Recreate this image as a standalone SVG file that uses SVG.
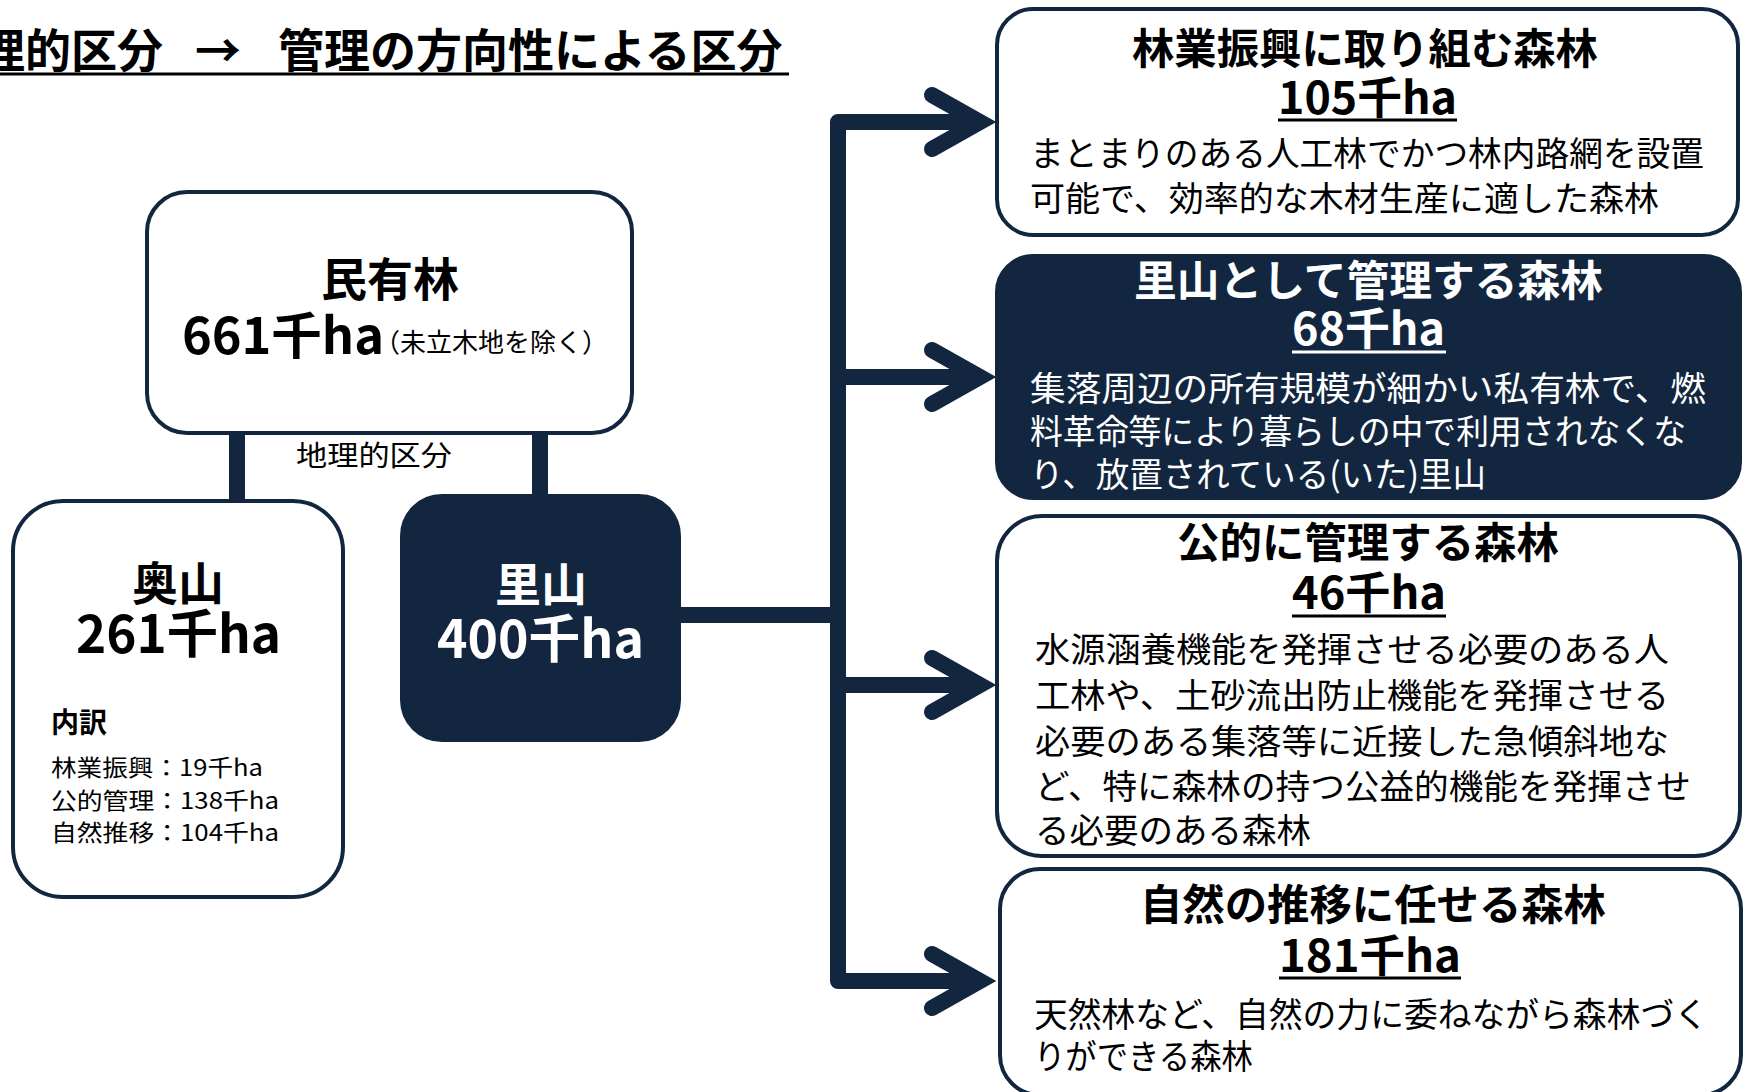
<svg xmlns="http://www.w3.org/2000/svg" width="1747" height="1092" viewBox="0 0 1747 1092">
<defs>
<style>
.t{font-family:"Noto Sans CJK JP","Noto Sans",sans-serif;fill:#000}
.b{font-weight:700}
.w{fill:#fff}
.box{fill:#fff;stroke:#13263f;stroke-width:4}
.dark{fill:#13263f;stroke:#13263f;stroke-width:4}
.conn{stroke:#13263f;stroke-width:16;fill:none;stroke-linejoin:round}
.chev{stroke:#13263f;stroke-width:16;fill:none;stroke-linecap:round;stroke-linejoin:miter}
.ul{stroke:#000;stroke-width:3}
.ulw{stroke:#fff;stroke-width:3}
</style>
</defs>
<rect width="1747" height="1092" fill="#fff"/>

<g id="title">
<text class="t b" y="67" font-size="46"><tspan x="-21">理的区分</tspan><tspan x="195">→</tspan><tspan x="278">管理の方向性による区分</tspan></text>
<line class="ul" x1="0" y1="74" x2="789" y2="74"/>
</g>

<g id="connectors">
<line class="conn" x1="237" y1="433" x2="237" y2="503" stroke-width="15"/>
<line class="conn" x1="540" y1="433" x2="540" y2="498" stroke-width="15"/>
<line class="conn" x1="679" y1="615" x2="838" y2="615"/>
<path class="conn" d="M980 122 H838 V981 H980"/>
<line class="conn" x1="838" y1="377" x2="980" y2="377"/>
<line class="conn" x1="838" y1="685" x2="980" y2="685"/>
<path class="chev" d="M932 95 L980 122 L932 149"/>
<path class="chev" d="M932 350 L980 377 L932 404"/>
<path class="chev" d="M932 658 L980 685 L932 712"/>
<path class="chev" d="M932 954 L980 981 L932 1008"/>
<text class="t" x="296" y="466" font-size="28" textLength="156" lengthAdjust="spacingAndGlyphs">地理的区分</text>
</g>

<g id="node-minyurin">
<rect class="box" x="147" y="192" width="485" height="241" rx="40"/>
<text class="t b" x="390" y="296" font-size="46" text-anchor="middle">民有林</text>
<text class="t b" x="182" y="354" font-size="50" textLength="202" lengthAdjust="spacingAndGlyphs">661千ha</text>
<text class="t" x="374" y="352" font-size="26" textLength="234" lengthAdjust="spacingAndGlyphs">（未立木地を除く）</text>
</g>

<g id="node-okuyama">
<rect class="box" x="13" y="501" width="330" height="396" rx="50"/>
<text class="t b" x="178" y="600" font-size="46" text-anchor="middle">奥山</text>
<text class="t b" x="76" y="653" font-size="52" textLength="205" lengthAdjust="spacingAndGlyphs">261千ha</text>
<text class="t b" x="51" y="733" font-size="28">内訳</text>
<text class="t" x="51" y="776" font-size="23" textLength="212" lengthAdjust="spacingAndGlyphs">林業振興：19千ha</text>
<text class="t" x="51" y="809" font-size="23" textLength="228" lengthAdjust="spacingAndGlyphs">公的管理：138千ha</text>
<text class="t" x="51" y="841" font-size="23" textLength="228" lengthAdjust="spacingAndGlyphs">自然推移：104千ha</text>
</g>

<g id="node-satoyama">
<rect class="dark" x="402" y="496" width="277" height="244" rx="40"/>
<text class="t b w" x="541" y="601" font-size="46" text-anchor="middle">里山</text>
<text class="t b w" x="437" y="658" font-size="52" textLength="207" lengthAdjust="spacingAndGlyphs">400千ha</text>
</g>

<g id="node-ringyo">
<rect class="box" x="997" y="9" width="741" height="226" rx="36"/>
<text class="t b" x="1132" y="64" font-size="42" textLength="466" lengthAdjust="spacingAndGlyphs">林業振興に取り組む森林</text>
<text class="t b" x="1278" y="114" font-size="44" textLength="179" lengthAdjust="spacingAndGlyphs">105千ha</text>
<line class="ul" x1="1278" y1="120" x2="1457" y2="120"/>
<text class="t" x="1030" y="166" font-size="34" textLength="674" lengthAdjust="spacingAndGlyphs">まとまりのある人工林でかつ林内路網を設置</text>
<text class="t" x="1030" y="211" font-size="34" textLength="629" lengthAdjust="spacingAndGlyphs">可能で、効率的な木材生産に適した森林</text>
</g>

<g id="node-satoyama-kanri">
<rect class="dark" x="997" y="256" width="743" height="242" rx="36"/>
<text class="t b w" x="1134" y="296" font-size="42" textLength="469" lengthAdjust="spacingAndGlyphs">里山として管理する森林</text>
<text class="t b w" x="1292" y="345" font-size="44" textLength="153" lengthAdjust="spacingAndGlyphs">68千ha</text>
<line class="ulw" x1="1292" y1="352" x2="1446" y2="352"/>
<text class="t w" x="1030" y="401" font-size="34" textLength="676" lengthAdjust="spacingAndGlyphs">集落周辺の所有規模が細かい私有林で、燃</text>
<text class="t w" x="1030" y="444" font-size="34" textLength="656" lengthAdjust="spacingAndGlyphs">料革命等により暮らしの中で利用されなくな</text>
<text class="t w" x="1030" y="487" font-size="34" textLength="456" lengthAdjust="spacingAndGlyphs">り、放置されている(いた)里山</text>
</g>

<g id="node-koteki">
<rect class="box" x="997" y="516" width="743" height="340" rx="45"/>
<text class="t b" x="1177" y="558" font-size="42" textLength="382" lengthAdjust="spacingAndGlyphs">公的に管理する森林</text>
<text class="t b" x="1292" y="609" font-size="44" textLength="154" lengthAdjust="spacingAndGlyphs">46千ha</text>
<line class="ul" x1="1292" y1="616" x2="1446" y2="616"/>
<text class="t" x="1035" y="662" font-size="34" textLength="634" lengthAdjust="spacingAndGlyphs">水源涵養機能を発揮させる必要のある人</text>
<text class="t" x="1035" y="708" font-size="34" textLength="634" lengthAdjust="spacingAndGlyphs">工林や、土砂流出防止機能を発揮させる</text>
<text class="t" x="1035" y="754" font-size="34" textLength="634" lengthAdjust="spacingAndGlyphs">必要のある集落等に近接した急傾斜地な</text>
<text class="t" x="1035" y="799" font-size="34" textLength="656" lengthAdjust="spacingAndGlyphs">ど、特に森林の持つ公益的機能を発揮させ</text>
<text class="t" x="1035" y="843" font-size="34" textLength="276" lengthAdjust="spacingAndGlyphs">る必要のある森林</text>
</g>

<g id="node-shizen">
<rect class="box" x="1000" y="869" width="741" height="226" rx="40"/>
<text class="t b" x="1140" y="920" font-size="42" textLength="466" lengthAdjust="spacingAndGlyphs">自然の推移に任せる森林</text>
<text class="t b" x="1279" y="972" font-size="44" textLength="182" lengthAdjust="spacingAndGlyphs">181千ha</text>
<line class="ul" x1="1279" y1="978" x2="1461" y2="978"/>
<text class="t" x="1034" y="1027" font-size="34" textLength="674" lengthAdjust="spacingAndGlyphs">天然林など、自然の力に委ねながら森林づく</text>
<text class="t" x="1034" y="1069" font-size="34" textLength="219" lengthAdjust="spacingAndGlyphs">りができる森林</text>
</g>
</svg>
